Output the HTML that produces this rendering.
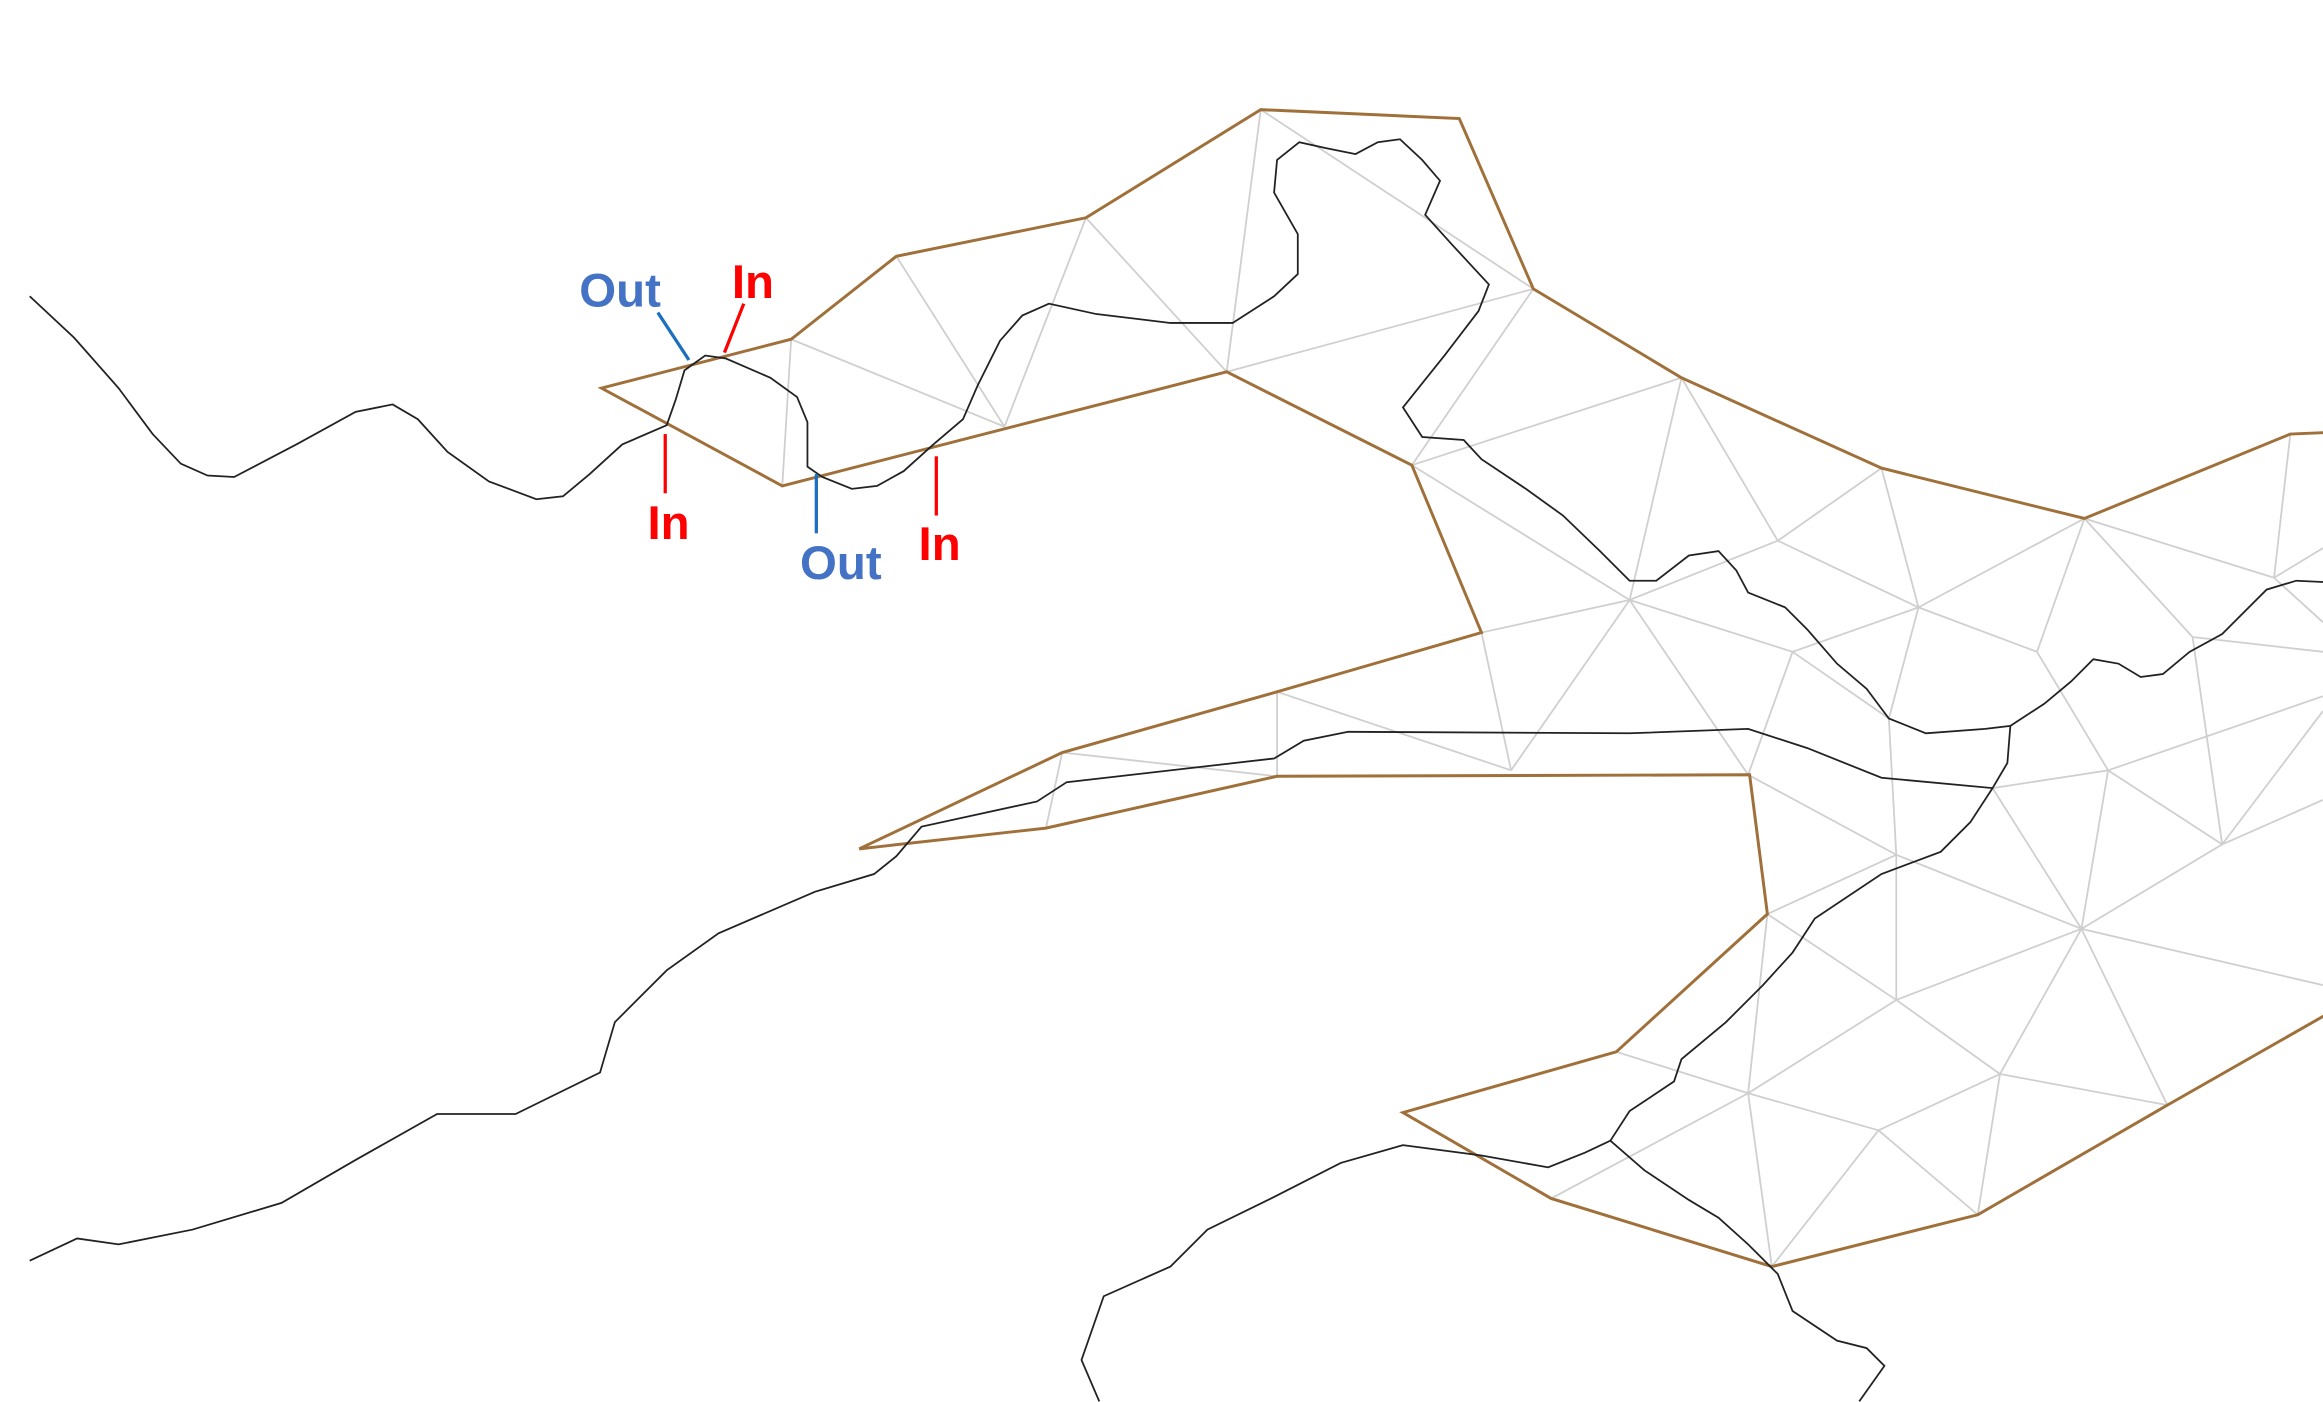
<!DOCTYPE html>
<html><head><meta charset="utf-8"><style>
html,body{margin:0;padding:0;background:#fff;width:2323px;height:1402px;overflow:hidden}
svg{display:block}
text{font-family:"Liberation Sans",Arial,sans-serif;font-weight:bold;font-size:32px}
</style></head><body>
<svg width="2323" height="1402" viewBox="0 0 1568 946.4" xmlns="http://www.w3.org/2000/svg">
<g stroke="#cfcfcf" stroke-width="1.2" fill="none">
<path d="M534,229L528,328M534,229L678,288M605,173L678,288M733,147L678,288M733,147L828,251M851,74L828,251M851,74L1035,195M828,251L1035,195M1035,195L953,314M953,314L1135,255M1135,255L1100,405M1135,255L1200,365M953,314L1100,405M1100,405L1000,427M1100,405L1020,520M1000,427L1020,520M1100,405L1200,365M1200,365L1270,316M1270,316L1295,410M1200,365L1295,410M1407,350L1295,410M1100,405L1210,440M1210,440L1295,410M1100,405L1180,523M1210,440L1180,523M1210,440L1275,485M1295,410L1275,485M1295,410L1375,440M1407,350L1375,440M1407,350L1535,390M1407,350L1480,430M1546,293L1535,390M862,467L1020,520M862,467L862,524M717,508L862,524M717,508L706,559M1275,485L1280,577M1180,523L1280,577M1280,577L1193,617M1280,577L1405,627M1345,532L1405,627M1405,627L1500,570M1500,570L1568,540M1500,570L1423,520M1423,520L1405,627M1423,520L1345,532M1423,520L1375,440M1405,627L1568,665M1280,577L1280,675M1405,627L1280,675M1405,627L1350,725M1405,627L1463,746M1350,725L1463,746M1280,675L1350,725M1280,675L1180,738M1280,675L1193,617M1350,725L1268,763M1268,763L1180,738M1180,738L1091,710M1180,738L1196,855M1268,763L1196,855M1268,763L1335,820M1350,725L1335,820M1180,738L1047,809M1193,617L1180,738M1500,570L1568,480M1480,430L1500,570M1535,390L1568,370M1423,520L1568,470M1375,440L1423,520M1480,430L1568,440M1535,390L1568,420"/>
</g>
<path d="M1570,685L1463,746L1335,820L1196,855L1047,809L947,751L1091,710L1193,617L1181,523L862,524L706,559L580,573L717,508L862,467L1000,427L953,314L828,251L528,328L406,262L534,229L605,173L733,147L851,74L985,80L1035,195L1135,255L1270,316L1407,350L1546,293L1570,292" fill="none" stroke="#a0703a" stroke-width="2"/>
<g stroke="#222" stroke-width="1.2" fill="none">
<path d="M20,200L50,228L80,262L103,293L122,313L140,321L158,322L200,300L240,278L265,273L282,283L302,305L330,325L362,337L380,335L398,320L420,300L450,287L456,270L462,250L476,240L490,242L520,255L538,268L545,285L545,315L555,322L575,330L592,328L610,318L630,300L650,283L660,260L675,230L690,213L708,205L740,212L790,218L832,218L860,200L876,185L876,158L860,130L862,108L877,96L895,100L915,104L930,96L945,94L960,108L972,122L962,145L980,165L1005,192L998,210L975,240L947,275L960,295L988,297L1000,310L1030,330L1055,348L1080,372L1100,392L1118,392L1140,375L1160,372L1172,385L1180,400L1205,410L1220,425L1240,448L1260,465L1275,485L1300,495L1340,492L1357,490L1380,475L1398,460L1413,445L1430,448L1445,457L1460,455L1478,440L1500,428L1530,398L1550,392L1570,393"/>
<path d="M20,851L52,836L80,840L130,830L190,812L240,783L295,752L348,752L405,724L415,690L450,655L485,630L550,602L590,590L605,578L622,558L700,541L720,528L860,512L880,500L910,494L1100,495L1180,492L1220,505L1270,525L1345,532L1355,515L1357,490"/>
<path d="M1345,532L1330,555L1310,575L1270,590L1225,620L1210,643L1190,665L1165,690L1135,715L1130,730L1100,750L1087,770L1070,778L1045,788L1000,780L947,773L905,785L860,808L815,830L790,855L745,875L730,918L742,946"/>
<path d="M1087,770L1110,790L1140,810L1160,822L1180,840L1200,860L1210,885L1240,905L1260,910L1272,922L1255,946"/>
</g>
<g stroke-width="2.2">
<line x1="444" y1="211" x2="465" y2="243" stroke="#1a6fbf"/>
<line x1="502" y1="205" x2="489" y2="238" stroke="#ff0000"/>
<line x1="449" y1="293" x2="449" y2="333" stroke="#ff0000"/>
<line x1="551" y1="320" x2="551" y2="360" stroke="#1a6fbf"/>
<line x1="632" y1="308" x2="632" y2="348" stroke="#ff0000"/>
</g>
<text x="391" y="207" fill="#4472c4">Out</text>
<text x="494" y="201" fill="#ff0000">In</text>
<text x="437" y="364" fill="#ff0000">In</text>
<text x="540" y="391" fill="#4472c4">Out</text>
<text x="620" y="378" fill="#ff0000">In</text>
</svg>
</body></html>
